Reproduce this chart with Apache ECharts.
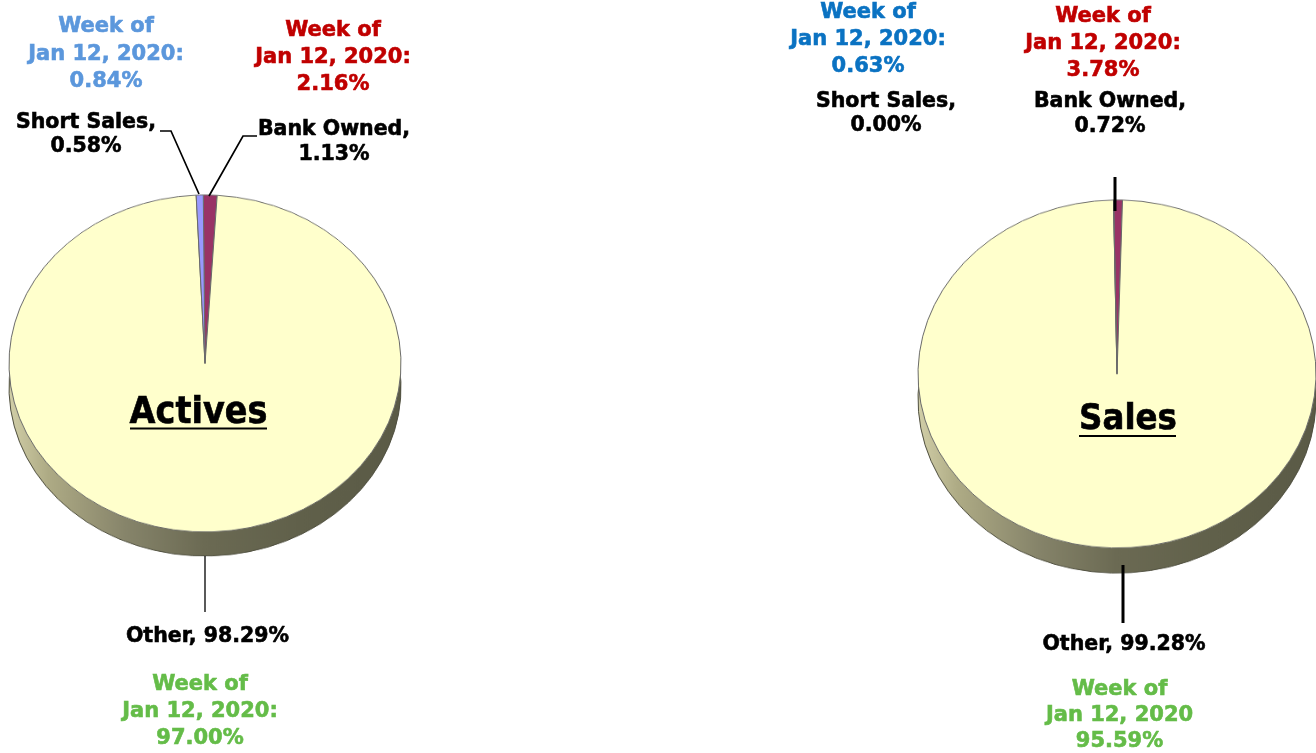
<!DOCTYPE html>
<html>
<head>
<meta charset="utf-8">
<script src="https://cdn.jsdelivr.net/npm/echarts@6/dist/echarts.min.js"></script>
<style>
  html,body{margin:0;padding:0;background:#fff;overflow:hidden;width:1316px;height:753px;}
  .layer{position:absolute;top:0;}
</style>
</head>
<body>
<div id="pl" class="layer"></div>
<div id="pr" class="layer"></div>
<div id="ov" class="layer" style="left:0;width:1316px;height:753px;"></div>
<script>
// ---------------- DATA ----------------
const sliceNames = ['Bank Owned', 'Other', 'Short Sales'];
const activesValues = [1.13, 98.29, 0.58];
const salesValues = [0.72, 99.28, 0.00];
const activesWeekValues = [2.16, 97.00, 0.84];
const salesWeekValues = [3.78, 95.59, 0.63];
const weekLabel = 'Jan 12, 2020';
const chartTitles = ['Actives', 'Sales'];

// ---------------- STYLE ----------------
const topColors = ['#993366', '#ffffcc', '#9999ff'];
const FONT = '"DejaVu Sans", sans-serif';

function sideGradient() {
  return new echarts.graphic.LinearGradient(0, 0, 1, 0, [
    { offset: 0, color: '#d2cfa8' },
    { offset: 0.1, color: '#aeab85' },
    { offset: 0.3, color: '#86846a' },
    { offset: 0.5, color: '#6b6a53' },
    { offset: 0.75, color: '#60604a' },
    { offset: 1, color: '#5a5a46' }
  ]);
}

// pie geometry in screen px: centre, horizontal radius, vertical radius, depth
function makePie(elId, left, cx, cy, rx, ry, depth, values, startAngle) {
  const k = ry / rx;
  const el = document.getElementById(elId);
  el.style.left = left + 'px';
  el.style.width = '658px';
  el.style.height = Math.ceil(753 / k + 60) + 'px';
  el.style.transform = 'scaleY(' + k + ')';
  el.style.transformOrigin = '0 0';
  const chart = echarts.init(el, null, { renderer: 'canvas' });
  const cxl = cx - left;
  const data = sliceNames.map((n, i) => ({ name: n, value: values[i], itemStyle: { color: topColors[i] } }));
  const sideData = sliceNames.map((n, i) => ({ name: n, value: values[i] }));
  chart.setOption({
    animation: false,
    series: [
      {
        type: 'pie', silent: true, z: 1,
        radius: [0, rx], center: [cxl, (cy + depth) / k],
        startAngle: startAngle, clockwise: true,
        label: { show: false }, labelLine: { show: false },
        itemStyle: { color: sideGradient(), borderColor: '#4e4e3e', borderWidth: 1 },
        emphasis: { disabled: true },
        data: sideData
      },
      {
        type: 'pie', silent: true, z: 2,
        radius: [0, rx], center: [cxl, cy / k],
        startAngle: startAngle, clockwise: true,
        label: { show: false }, labelLine: { show: false },
        itemStyle: { borderColor: '#6a6a6a', borderWidth: 1 },
        emphasis: { disabled: true },
        data: data
      }
    ]
  });
}

makePie('pl', 0, 205, 363.5, 196, 168.5, 24, activesValues, 90.5);
makePie('pr', 658, 1117, 374, 199, 174, 25, salesValues, 91);

// ---------------- LABEL OVERLAY ----------------
function block(cx, capTop, lines, color, size, lh, sy) {
  sy = sy || 1;
  const capH = size * 0.729 * sy;
  const first = capTop + capH / 2;
  const y = first + (lines.length - 1) * lh * sy / 2;
  return {
    type: 'text', x: cx, y: y, z: 10,
    scaleY: sy, originX: 0, originY: 0,
    style: {
      text: lines.join('\n'), fill: color,
      stroke: color, lineWidth: 0.6,
      font: 'bold ' + size + 'px ' + FONT,
      align: 'center', verticalAlign: 'middle',
      textAlign: 'center', textVerticalAlign: 'middle',
      lineHeight: lh
    }
  };
}
function pct(v) { return v.toFixed(2) + '%'; }
function line(pts, w) {
  return { type: 'polyline', z: 9, shape: { points: pts }, style: { stroke: '#000', lineWidth: w, fill: null } };
}

const blueL = '#5b97dc', blueR = '#0a72c2', red = '#c00000', green = '#64bc48';
const SB = 20.5, SC = 21;

const graphics = [
  // Actives
  block(106, 19.3, ['Week of', weekLabel + ':', pct(activesWeekValues[2])], blueL, SC, 27.3),
  block(333, 22.7, ['Week of', weekLabel + ':', pct(activesWeekValues[0])], red, SC, 27),
  block(86, 115, [sliceNames[2] + ',', pct(activesValues[2])], '#000', SB, 24),
  block(334, 121.7, [sliceNames[0] + ',', pct(activesValues[0])], '#000', SB, 25),
  block(207.5, 629.3, [sliceNames[1] + ', ' + pct(activesValues[1])], '#000', SB, 25),
  block(200, 677.3, ['Week of', weekLabel + ':', pct(activesWeekValues[1])], green, SC, 27),
  block(198.5, 400, [chartTitles[0]], '#000', 33.5, 40, 1.1),
  { type: 'line', z: 10, shape: { x1: 130, y1: 428.5, x2: 267, y2: 428.5 }, style: { stroke: '#000', lineWidth: 2 } },
  line([[160, 131], [171, 131], [199, 194]], 1.7),
  line([[257, 136], [243, 136], [209, 196]], 1.7),
  line([[205, 556], [205, 612]], 1.3),
  // Sales
  block(868, 5, ['Week of', weekLabel + ':', pct(salesWeekValues[2])], blueR, SC, 27),
  block(1103, 9.3, ['Week of', weekLabel + ':', pct(salesWeekValues[0])], red, SC, 26.7),
  block(886, 94, [sliceNames[2] + ',', pct(salesValues[2])], '#000', SB, 24.3),
  block(1110, 94, [sliceNames[0] + ',', pct(salesValues[0])], '#000', SB, 25.3),
  block(1124, 636.7, [sliceNames[1] + ', ' + pct(salesValues[1])], '#000', SB, 25),
  block(1119.5, 681.7, ['Week of', weekLabel, pct(salesWeekValues[1])], green, SC, 26),
  block(1128, 407, [chartTitles[1]], '#000', 32.5, 40, 1.1),
  { type: 'line', z: 10, shape: { x1: 1079, y1: 436, x2: 1176, y2: 436 }, style: { stroke: '#000', lineWidth: 2 } },
  line([[1115, 177], [1115, 211]], 3),
  line([[1123, 565], [1123, 623]], 3)
];

const ov = echarts.init(document.getElementById('ov'), null, { renderer: 'canvas' });
ov.setOption({ animation: false, backgroundColor: 'transparent', graphic: graphics });
</script>
</body>
</html>
